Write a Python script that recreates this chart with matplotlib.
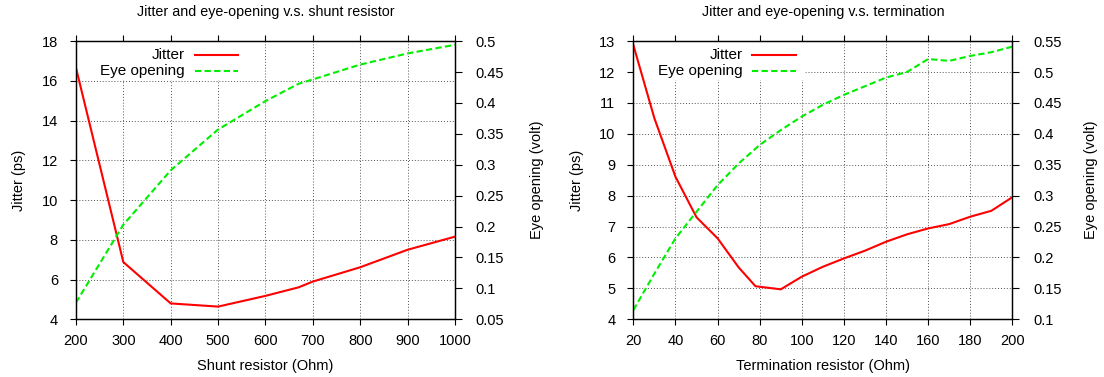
import matplotlib
matplotlib.use("Agg")
import matplotlib.pyplot as plt
from matplotlib.ticker import FormatStrFormatter

plt.rcParams['font.family'] = ['Liberation Sans', 'DejaVu Sans']
plt.rcParams['font.size'] = 10.5

# shunt resistor sweep
shunt_r = [200, 300, 400, 500, 600, 670, 700, 800, 900, 1000]
shunt_jitter = [16.66, 6.88, 4.80, 4.64, 5.18, 5.61, 5.90, 6.62, 7.50, 8.16]
shunt_eye = [0.077, 0.203, 0.291, 0.357, 0.403, 0.431, 0.438, 0.462, 0.480, 0.494]

# termination resistor sweep
term_r = [20, 30, 40, 50, 60, 70, 78, 90, 100, 110, 120, 130, 140, 150, 160, 170, 180, 190, 200]
term_jitter = [12.87, 10.50, 8.61, 7.30, 6.62, 5.68, 5.07, 4.97, 5.38, 5.70, 5.97,
               6.22, 6.51, 6.75, 6.94, 7.08, 7.32, 7.51, 7.95]
term_eye_x = [20, 30, 40, 50, 60, 70, 80, 90, 100, 110, 120, 130, 140, 150, 160, 170, 180, 190, 200]
term_eye = [0.115, 0.174, 0.231, 0.274, 0.317, 0.352, 0.382, 0.406, 0.428, 0.447, 0.463,
            0.477, 0.491, 0.500, 0.521, 0.518, 0.526, 0.532, 0.541]

fig = plt.figure(figsize=(11.04, 3.77), dpi=100)


def panel(left, x, jit, eye_x, eye, title, xlabel, xlim, xticks, ylim, yticks, y2lim, y2ticks,
          ylab_x, y2lab_x):
    ax = fig.add_axes([left, 0.153, 0.3433, 0.738])
    ax2 = ax.twinx()
    ax.plot(x, jit, color='#ff0000', lw=1.5, zorder=3)
    ax2.plot(eye_x, eye, color='#00ee00', lw=1.5, dashes=(3, 1.6))
    ax.set_xlim(*xlim)
    ax.set_xticks(xticks)
    ax.set_ylim(*ylim)
    ax.set_yticks(yticks)
    ax2.set_ylim(*y2lim)
    ax2.set_yticks(y2ticks)
    ax2.yaxis.set_major_formatter(FormatStrFormatter('%g'))
    ax.grid(True, color='#555555', lw=0.7, linestyle=(0, (1, 2)))
    ax.tick_params(axis='x', direction='out', length=4.5, width=0.8, top=True, pad=6)
    ax.tick_params(axis='y', direction='out', length=4.5, width=0.8, pad=8.5)
    ax2.tick_params(direction='out', length=5, width=0.8, pad=10)
    for a in (ax, ax2):
        for s in a.spines.values():
            s.set_linewidth(0.9)
    ax.set_title(title, fontsize=10.3, pad=18)
    ax.set_xlabel(xlabel)
    ax.xaxis.set_label_coords(0.5, -0.144)
    ax.set_ylabel('Jitter (ps)')
    ax.yaxis.set_label_coords(ylab_x, 0.5)
    ax2.set_ylabel('Eye opening (volt)')
    ax2.yaxis.set_label_coords(y2lab_x, 0.5)

    # key box in the top left corner
    ax.fill_between([0.0, 0.45], 0.865, 0.995, transform=ax.transAxes, color='white', zorder=2.5)
    ax.text(0.288, 0.950, 'Jitter', transform=ax.transAxes, ha='right', va='center',
            fontsize=11, zorder=4)
    ax.plot([0.314, 0.428], [0.950, 0.950], transform=ax.transAxes, color='#ff0000',
            lw=1.5, zorder=4)
    ax.text(0.288, 0.893, 'Eye opening', transform=ax.transAxes, ha='right', va='center',
            fontsize=11, zorder=4)
    ax.plot([0.314, 0.428], [0.893, 0.893], transform=ax.transAxes, color='#00ee00',
            lw=1.5, dashes=(3, 1.6), zorder=4)
    return ax, ax2


panel(0.0688, shunt_r, shunt_jitter, shunt_r, shunt_eye,
      'Jitter and eye-opening v.s. shunt resistor', 'Shunt resistor (Ohm)',
      (200, 1000), range(200, 1001, 100), (4, 18), range(4, 19, 2),
      (0.05, 0.5), [0.05 * i for i in range(1, 11)], -0.132, 1.198)

panel(0.5737, term_r, term_jitter, term_eye_x, term_eye,
      'Jitter and eye-opening v.s. termination', 'Termination resistor (Ohm)',
      (20, 200), range(20, 201, 20), (4, 13), range(4, 14),
      (0.1, 0.55), [0.05 * i for i in range(2, 12)], -0.130, 1.189)

fig.savefig('out.png', dpi=100)
